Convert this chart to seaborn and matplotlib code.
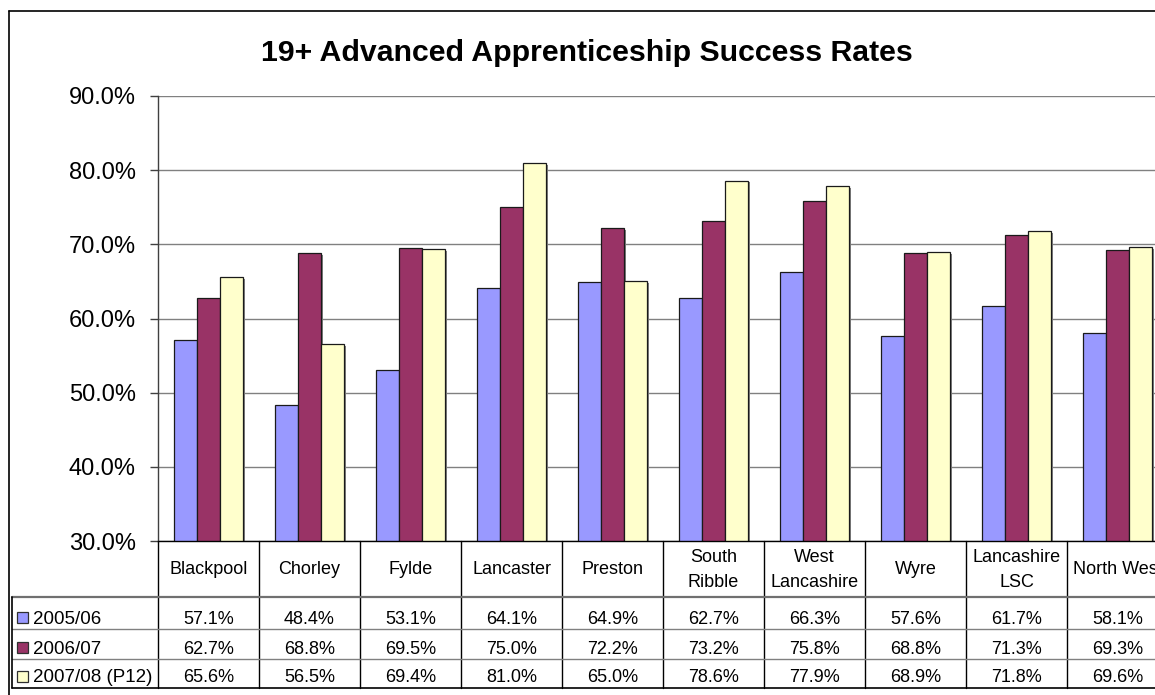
import numpy as np
import pandas as pd
import matplotlib
matplotlib.use("Agg")
import matplotlib.pyplot as plt
import matplotlib.patheffects as pe
import matplotlib.transforms as mtrans
from matplotlib.lines import Line2D
from matplotlib.patches import Rectangle
import seaborn as sns

# ---- data -------------------------------------------------------------
areas = ["Blackpool", "Chorley", "Fylde", "Lancaster", "Preston",
         "South\nRibble", "West\nLancashire", "Wyre", "Lancashire\nLSC",
         "North West"]
years = ["2005/06", "2006/07", "2007/08 (P12)"]
rate_0506 = [57.1, 48.4, 53.1, 64.1, 64.9, 62.7, 66.3, 57.6, 61.7, 58.1]
rate_0607 = [62.7, 68.8, 69.5, 75.0, 72.2, 73.2, 75.8, 68.8, 71.3, 69.3]
rate_0708 = [65.6, 56.5, 69.4, 81.0, 65.0, 78.6, 77.9, 68.9, 71.8, 69.6]
y_ticks = [30, 40, 50, 60, 70, 80, 90]
colors = ["#9999FF", "#993366", "#FFFFCC"]
title = "19+ Advanced Apprenticeship Success Rates"

series = [rate_0506, rate_0607, rate_0708]
df = pd.DataFrame({
    "area": np.tile(areas, len(years)),
    "year": np.repeat(years, len(areas)),
    "rate": np.concatenate(series),
})

# ---- figure -----------------------------------------------------------
sns.set_style("white")
plt.rcParams["font.family"] = ["Liberation Sans", "DejaVu Sans"]
plt.rcParams["text.color"] = "black"
plt.rcParams["ytick.color"] = "black"
plt.rcParams["ytick.labelcolor"] = "black"

W, H = 1155, 695
fig = plt.figure(figsize=(W / 100, H / 100), dpi=100)


def fx(px):
    return px / W


def fy(py):
    return 1 - py / H


plot_l, plot_r, plot_t, plot_b = 158, 1168, 96, 541
ax = fig.add_axes([fx(plot_l), fy(plot_b), fx(plot_r - plot_l),
                   (plot_b - plot_t) / H])

sns.barplot(data=df, x="area", y="rate", hue="year", order=areas,
            hue_order=years, palette=colors, saturation=1, width=0.683,
            edgecolor="#1a1a1a", linewidth=0.9, legend=False, ax=ax)

for bar in ax.patches:
    bar.set_path_effects([
        pe.SimplePatchShadow(offset=(1.4, -1.4), shadow_rgbFace="#808080",
                             alpha=1.0),
        pe.Normal()])

ax.set_xlim(-0.5, len(areas) - 0.5)
ax.set_ylim(y_ticks[0], y_ticks[-1])
ax.set_yticks(y_ticks)
ax.set_yticklabels([f"{v:.1f}%" for v in y_ticks])
ax.set_xticks([])
ax.set_xlabel("")
ax.set_ylabel("")
ax.yaxis.grid(True, color="#808080", linewidth=1.0)
ax.set_axisbelow(True)
ax.tick_params(axis="y", length=6, width=1, pad=10, labelsize=17,
               color="#404040", labelcolor="black", left=True)
for s in ["top", "right"]:
    ax.spines[s].set_visible(False)
ax.spines["left"].set_color("#404040")
ax.spines["left"].set_linewidth(1.0)
ax.spines["bottom"].set_color("black")
ax.spines["bottom"].set_linewidth(1.0)

# title
fig.text(fx(587), fy(53), title, ha="center", va="center",
         fontsize=21.8, fontweight="bold", color="black")

# chart frame
fig.add_artist(Line2D([fx(9), 1.0], [fy(11), fy(11)], color="black", lw=1.2))
fig.add_artist(Line2D([fx(9), fx(9)], [fy(11), 0.0], color="black", lw=1.2))

# ---- data table below the plot ---------------------------------------
trans = mtrans.blended_transform_factory(ax.transData, fig.transFigure)
row_lines = [597, 629, 659, 688]
row_baselines = [623.5, 653.5, 682.5]
header_mid = 570

# column separators
for i in range(len(areas) + 1):
    ax.add_line(Line2D([i - 0.5, i - 0.5], [fy(plot_b), fy(row_lines[-1])],
                       transform=trans, color="black", lw=1.0,
                       clip_on=False))
# row lines
fig.add_artist(Line2D([fx(12), 1.0], [fy(row_lines[0])] * 2,
                      color="#707070", lw=1.6))
for y in row_lines[1:-1]:
    fig.add_artist(Line2D([fx(12), 1.0], [fy(y)] * 2, color="#808080",
                          lw=1.0))
fig.add_artist(Line2D([fx(12), 1.0], [fy(row_lines[-1])] * 2,
                      color="black", lw=1.2))
fig.add_artist(Line2D([fx(12), fx(12)], [fy(row_lines[0]), fy(row_lines[-1])],
                      color="black", lw=1.2))

# category headers
for i, name in enumerate(areas):
    ax.text(i, fy(header_mid), name, transform=trans, ha="center",
            va="center", fontsize=13, linespacing=1.6, clip_on=False)

# legend keys and values
for r, (year, vals, col) in enumerate(zip(years, series, colors)):
    base = row_baselines[r]
    fig.add_artist(Rectangle((fx(17), fy(base - 1)), fx(11), 11 / H,
                             facecolor=col, edgecolor="#303030", lw=0.9))
    fig.text(fx(33), fy(base), year, ha="left", va="baseline", fontsize=13.5)
    for i, v in enumerate(vals):
        ax.text(i, fy(base), f"{v:.1f}%", transform=trans, ha="center",
                va="baseline", fontsize=13, clip_on=False)

fig.savefig("out.png", dpi=100)
